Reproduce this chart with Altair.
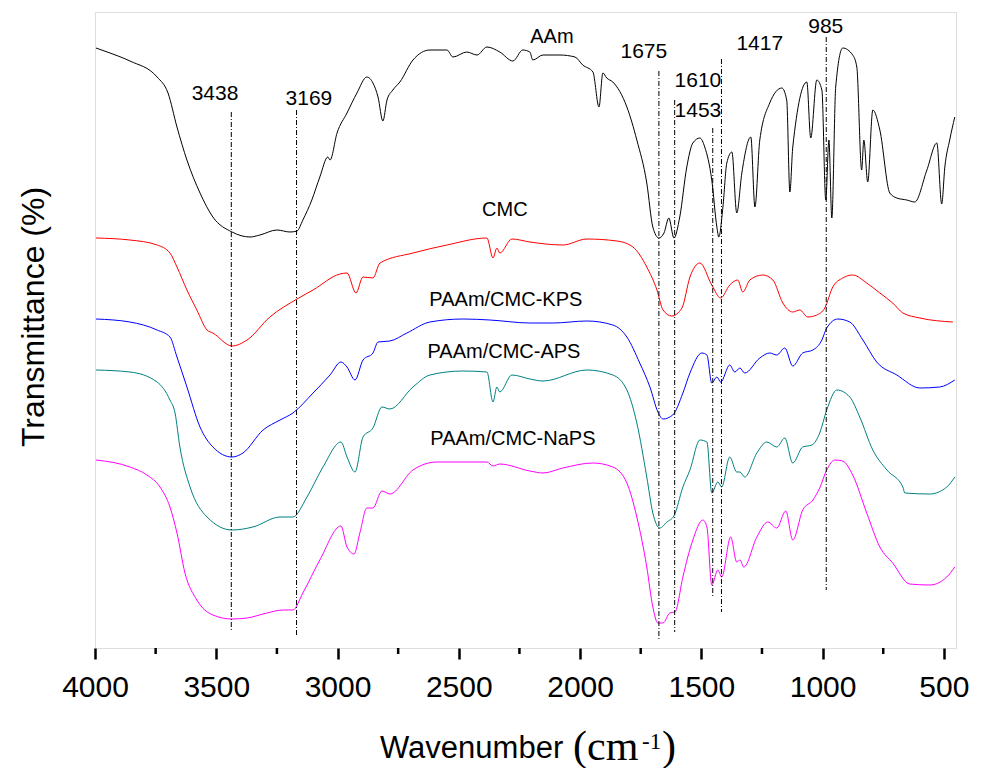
import altair as alt
import pandas as pd

# ---------------- data (wavenumber cm-1, transmittance offset in arbitrary units) -------------
aam_wn = [3996, 3938, 3856, 3744, 3699, 3662, 3621, 3567, 3514, 3435, 3361, 3320, 3250, 3196, 3167,
          3143, 3106, 3073, 3040, 3031, 3002, 2961, 2920, 2879, 2854, 2833, 2813, 2796, 2772, 2743,
          2689, 2619, 2549, 2524, 2467, 2425, 2384, 2331, 2277, 2236, 2207, 2195, 2153, 2083, 2021,
          1989, 1947, 1922, 1906, 1890, 1865, 1807, 1766, 1725, 1700, 1675, 1654, 1634, 1613, 1589,
          1560, 1535, 1506, 1486, 1457, 1436, 1428, 1411, 1395, 1374, 1354, 1333, 1296, 1279, 1259,
          1218, 1168, 1148, 1135, 1123, 1065, 1049, 1024, 1003, 987, 974, 962, 946, 917, 876,
          859, 839, 830, 814, 793, 764, 723, 694, 653, 620, 570, 529, 509, 496, 476, 455]
aam_t = [600, 595, 587, 571, 555, 521, 488, 455, 431, 416, 411, 413, 418, 416, 417,
         428, 448, 471, 491, 488, 515, 535, 555, 571, 565, 551, 527, 548, 558, 566,
         588, 598, 598, 591, 596, 593, 601, 596, 587, 598, 596, 588, 593, 593, 591,
         583, 576, 541, 575, 570, 566, 541, 508, 465, 421, 410, 415, 430, 410, 431,
         481, 505, 510, 501, 468, 421, 411, 441, 485, 496, 435, 475, 511, 441, 508,
         545, 560, 548, 456, 501, 566, 510, 568, 558, 448, 508, 430, 561, 600, 593,
         581, 478, 508, 466, 538, 518, 455, 450, 448, 446, 478, 505, 444, 481, 508, 531]

cmc_wn = [3996, 3856, 3744, 3691, 3662, 3621, 3580, 3538, 3514, 3435, 3373, 3279, 3167, 3101, 2990,
          2961, 2924, 2895, 2854, 2825, 2689, 2549, 2384, 2359, 2343, 2331, 2281, 2207, 2071, 1972,
          1848, 1782, 1725, 1683, 1658, 1622, 1580, 1547, 1506, 1457, 1420, 1383, 1350, 1329, 1300,
          1247, 1205, 1164, 1123, 1094, 1061, 1024, 991, 958, 917, 876, 818, 764, 711, 669,
          599, 463]
cmc_t = [410, 408, 403, 395, 381, 358, 338, 318, 315, 302, 308, 331, 349, 358, 374,
         375, 355, 371, 370, 385, 395, 403, 410, 390, 400, 395, 409, 406, 403, 409,
         407, 401, 381, 358, 338, 332, 340, 371, 385, 363, 350, 363, 368, 356, 368,
         373, 368, 345, 336, 338, 331, 333, 340, 361, 370, 373, 365, 355, 345, 335,
         330, 326]

kps_wn = [3996, 3856, 3744, 3691, 3662, 3621, 3567, 3514, 3435, 3390, 3307, 3237, 3184, 3101, 3031,
          2986, 2961, 2928, 2895, 2854, 2833, 2784, 2714, 2619, 2483, 2372, 2207, 2112, 1972, 1865,
          1807, 1754, 1712, 1679, 1658, 1618, 1576, 1547, 1498, 1477, 1457, 1436, 1420, 1383, 1362,
          1341, 1321, 1259, 1218, 1189, 1156, 1123, 1082, 1040, 1003, 983, 937, 888, 834, 777,
          694, 599, 517, 455]
kps_t = [329, 326, 318, 311, 291, 261, 221, 201, 191, 195, 218, 228, 235, 255, 273,
         286, 281, 268, 288, 295, 306, 307, 315, 326, 329, 328, 325, 325, 327, 323,
         311, 285, 261, 236, 229, 233, 255, 275, 295, 293, 265, 271, 266, 283, 276,
         280, 275, 290, 295, 293, 300, 282, 295, 298, 308, 320, 329, 326, 308, 286,
         273, 260, 261, 268]

aps_wn = [3996, 3856, 3744, 3691, 3670, 3650, 3608, 3538, 3435, 3349, 3237, 3184, 3126, 3060, 2986,
          2961, 2928, 2895, 2854, 2817, 2784, 2689, 2619, 2483, 2384, 2359, 2343, 2331, 2281, 2207,
          2153, 1972, 1865, 1807, 1766, 1725, 1700, 1671, 1642, 1613, 1576, 1547, 1506, 1477, 1457,
          1432, 1416, 1383, 1354, 1341, 1321, 1271, 1230, 1189, 1156, 1123, 1082, 1044, 1012, 983,
          941, 888, 847, 793, 735, 669, 661, 558, 488, 455]
aps_t = [278, 276, 266, 248, 235, 201, 161, 131, 118, 121, 131, 131, 151, 181, 206,
         191, 176, 211, 220, 241, 239, 261, 273, 277, 276, 246, 261, 256, 273, 269,
         267, 278, 273, 258, 225, 171, 135, 120, 126, 132, 161, 178, 208, 206, 155,
         166, 161, 191, 176, 176, 171, 195, 206, 201, 210, 185, 201, 203, 215, 238,
         258, 251, 231, 198, 178, 161, 155, 154, 161, 171]

naps_wn = [3996, 3856, 3786, 3732, 3691, 3662, 3629, 3580, 3514, 3435, 3373, 3291, 3225, 3184, 3143,
           3073, 2986, 2961, 2932, 2908, 2879, 2854, 2817, 2784, 2689, 2590, 2384, 2359, 2331, 2207,
           2153, 2071, 1947, 1865, 1807, 1766, 1725, 1700, 1679, 1658, 1630, 1609, 1576, 1556, 1535,
           1494, 1477, 1457, 1432, 1416, 1379, 1354, 1341, 1325, 1271, 1226, 1189, 1152, 1123, 1082,
           1040, 1012, 983, 950, 917, 876, 818, 764, 711, 641, 558, 488, 455]
naps_t = [188, 181, 173, 161, 141, 115, 75, 48, 33, 29, 30, 35, 38, 38, 55,
          88, 122, 101, 94, 115, 140, 140, 157, 154, 178, 186, 186, 182, 184, 177,
          175, 180, 185, 181, 165, 131, 81, 41, 25, 25, 35, 36, 71, 91, 108,
          128, 121, 63, 78, 71, 111, 86, 88, 81, 111, 126, 120, 137, 108, 138,
          148, 160, 178, 188, 187, 173, 135, 101, 85, 64, 63, 71, 81]

series_names = ["AAm", "CMC", "PAAm/CMC-KPS", "PAAm/CMC-APS", "PAAm/CMC-NaPS"]
series_colors = ["#000000", "#ff0000", "#0000ff", "#008080", "#ff00ff"]

peak_wn = [3438, 3169, 1675, 1610, 1453, 1417, 985]
peak_top = [536, 538, 577, 548, 520, 589, 611]
peak_bottom = [16, 13, 8, 16, 51, 36, 58]

num_text = ["3438", "3169", "1675", "1610", "1453", "1417", "985"]
num_wn = [3505, 3118, 1737, 1514, 1514, 1259, 987]
num_t = [554, 549, 596, 567, 537, 604, 621]

name_text = ["AAm", "CMC", "PAAm/CMC-KPS", "PAAm/CMC-APS", "PAAm/CMC-NaPS"]
name_wn = [2116, 2310, 2306, 2314, 2277]
name_t = [611, 438, 348, 296, 209]

major_ticks = [4000, 3500, 3000, 2500, 2000, 1500, 1000, 500]
minor_ticks = [3750, 3250, 2750, 2250, 1750, 1250, 750]

# ---------------- frames ----------------
rows = []
for name, wn, t in zip(series_names,
                       [aam_wn, cmc_wn, kps_wn, aps_wn, naps_wn],
                       [aam_t, cmc_t, kps_t, aps_t, naps_t]):
    for w, v in zip(wn, t):
        rows.append({"series": name, "wn": w, "t": v})
spec = pd.DataFrame(rows)
peaks = pd.DataFrame({"wn": peak_wn, "top": peak_top, "bottom": peak_bottom})
nums = pd.DataFrame({"label": num_text, "wn": num_wn, "t": num_t})
names = pd.DataFrame({"label": name_text, "wn": name_wn, "t": name_t})
minors = pd.DataFrame({"wn": minor_ticks})

FONT = "Liberation Sans"
SERIF = "Liberation Serif"
xscale = alt.Scale(domain=[4000, 450], nice=False, zero=False)
yscale = alt.Scale(domain=[0, 636], nice=False, zero=False)

xaxis = alt.Axis(values=major_ticks, format="d", tickSize=11, tickWidth=2.5, tickColor="black",
                 domain=False, grid=False, labelFontSize=30, labelFont=FONT,
                 labelColor="black", labelPadding=13, title=None, labelFlush=False)

lines = alt.Chart(spec).mark_line(strokeWidth=1, interpolate="monotone").encode(
    x=alt.X("wn:Q", scale=xscale, axis=xaxis),
    y=alt.Y("t:Q", scale=yscale, axis=None),
    color=alt.Color("series:N", scale=alt.Scale(domain=series_names, range=series_colors), legend=None),
    detail="series:N",
)

rules = alt.Chart(peaks).mark_rule(color="black", strokeWidth=1, strokeDash=[5, 2, 1, 2]).encode(
    x=alt.X("wn:Q", scale=xscale),
    y=alt.Y("top:Q", scale=yscale),
    y2="bottom:Q",
)

minor = alt.Chart(minors).mark_rule(color="black", strokeWidth=2.5).encode(
    x=alt.X("wn:Q", scale=xscale),
    y=alt.value(636),
    y2=alt.value(642),
)

num_labels = alt.Chart(nums).mark_text(font=FONT, fontSize=21, align="center", baseline="middle",
                                       color="black").encode(
    x=alt.X("wn:Q", scale=xscale), y=alt.Y("t:Q", scale=yscale), text="label:N")

name_labels = alt.Chart(names).mark_text(font=FONT, fontSize=20, align="center", baseline="middle",
                                         color="black").encode(
    x=alt.X("wn:Q", scale=xscale), y=alt.Y("t:Q", scale=yscale), text="label:N")

one = pd.DataFrame({"a": [0]})
ytitle = alt.Chart(one).mark_text(text="Transmittance (%)", font=FONT, fontSize=32, angle=270,
                                  align="center", baseline="middle", color="black").encode(
    x=alt.value(-61), y=alt.value(305))
xt1 = alt.Chart(one).mark_text(text="Wavenumber", font=FONT, fontSize=31, align="left",
                               baseline="alphabetic", color="black").encode(
    x=alt.value(285), y=alt.value(746))
xt2 = alt.Chart(one).mark_text(text="(cm", font=SERIF, fontSize=42, align="left",
                               baseline="alphabetic", color="black").encode(
    x=alt.value(478), y=alt.value(748))
xt3 = alt.Chart(one).mark_text(text="-1", font=SERIF, fontSize=23, align="left",
                               baseline="alphabetic", color="black").encode(
    x=alt.value(547), y=alt.value(737))
xt4 = alt.Chart(one).mark_text(text=")", font=SERIF, fontSize=42, align="left",
                               baseline="alphabetic", color="black").encode(
    x=alt.value(567), y=alt.value(748))

chart = alt.layer(lines, rules, minor, num_labels, name_labels, ytitle, xt1, xt2, xt3, xt4).properties(
    width=861, height=636,
    autosize=alt.AutoSizeParams(type="none"),
    padding={"left": 87, "top": 4, "right": 20, "bottom": 120},
).configure_view(stroke="black", strokeWidth=3).configure(background="white")

chart.save("out.html", embed_options={"renderer": "svg", "actions": False})
